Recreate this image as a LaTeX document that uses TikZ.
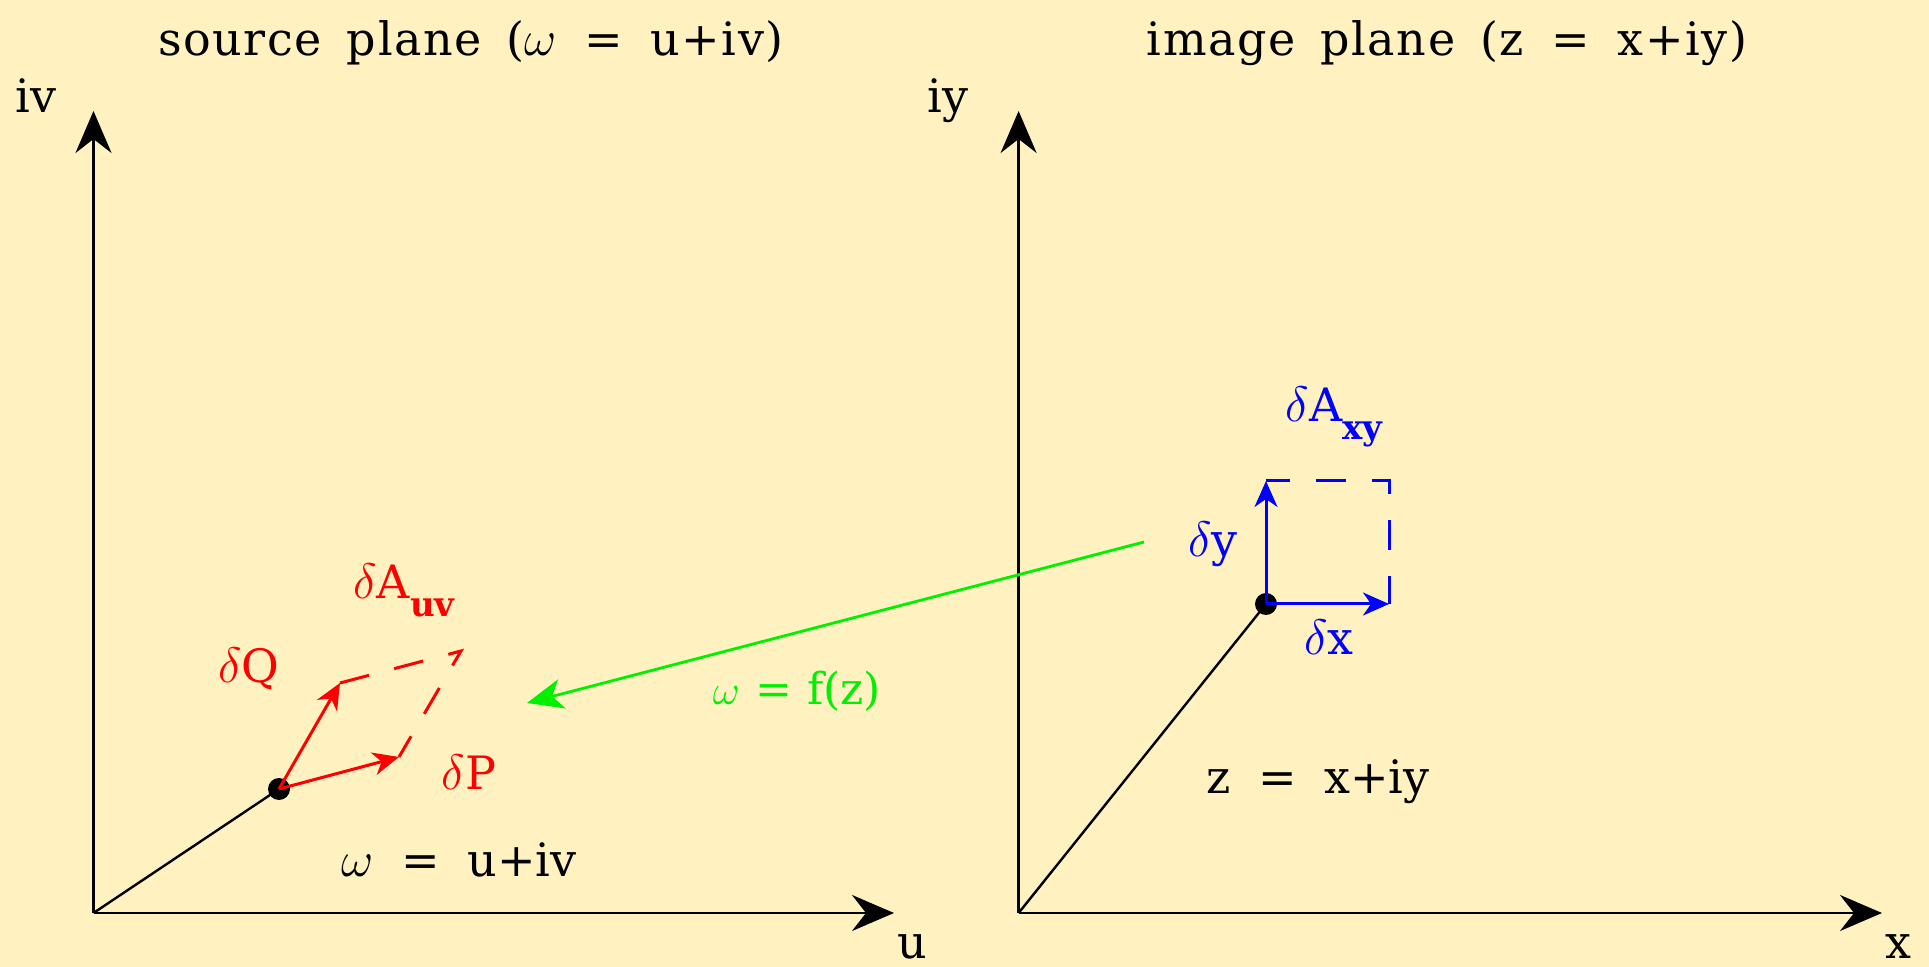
\documentclass[tikz,border=0pt]{standalone}
\usepackage{fontspec}
\setmainfont{DejaVu Serif}
\usetikzlibrary{arrows.meta}
\definecolor{bg}{RGB}{255,242,192}
\definecolor{gr}{RGB}{0,240,0}
\newcommand\eqsp{\hspace{0.6em}=\hspace{0.6em}}
\newcommand\geqsp{\hspace{0.35em}=\hspace{0.35em}}
\newcommand\wsp{\hspace{0.54em}}
\newcommand\subtxt[1]{\raisebox{-9pt}{\fontsize{17}{17}\selectfont\bfseries #1}}
\tikzset{
 axis/.style={line width=1.3pt, -{Stealth[length=21pt,width=18pt,inset=7pt]}},
 vec/.style={line width=1.5pt, -{Stealth[length=13pt,width=11.5pt,inset=4pt]}},
 gvec/.style={line width=1.4pt, gr, -{Stealth[length=18pt,width=15pt,inset=5pt]}},
 dashside/.style={line width=1.5pt, dash pattern=on 15pt off 13pt},
 ptdot/.style={circle, fill=black, inner sep=0pt, minimum size=11pt},
 radline/.style={line width=1.2pt},
 lbl/.style={anchor=base, inner sep=0pt, font=\fontsize{23}{27}\selectfont},
 ttl/.style={anchor=base, inner sep=0pt, font=\fontsize{23}{27}\selectfont\addfontfeatures{LetterSpace=3.5}},
 clbl/.style={anchor=base, inner sep=0pt, font=\fontsize{23}{27}\selectfont},
}
\begin{document}
\begin{tikzpicture}[x=0.5pt,y=-0.5pt]
\fill[bg] (0,0) rectangle (1929,967);
\useasboundingbox (0,0) rectangle (1929,967);
% titles
\node[ttl] (t1) at (471,56) {source\wsp plane\wsp($\omega$\eqsp u+iv)};
\node[ttl] (t2) at (1447,56) {image\wsp plane\wsp(z\eqsp x+iy)};
% left axes
\coordinate (O1) at (93.5,913);
\coordinate (Y1) at (93.5,111);
\coordinate (X1) at (894,913);
\draw[axis] (O1) -- (Y1);
\draw[axis] (O1) -- (X1);
\node[lbl] (iv) at (36,113) {iv};
\node[lbl] (u) at (912,958) {u};
% right axes
\coordinate (O2) at (1018.6,913);
\coordinate (Y2) at (1018.6,111);
\coordinate (X2) at (1882,913);
\draw[axis] (O2) -- (Y2);
\draw[axis] (O2) -- (X2);
\node[lbl] (iy) at (948,113) {iy};
\node[lbl] (x) at (1898,958) {x};
% left point
\coordinate (P1c) at (279,789);
\draw[radline] (O1) -- (P1c);
\node[ptdot] (P1) at (P1c) {};
\coordinate (dP) at (399,757);
\coordinate (dQ) at (340,683);
\coordinate (C1) at (461,651);
\draw[dashside, red] (dQ) -- (C1) -- (dP);
\draw[vec, red] (P1.center) -- (dP);
\draw[vec, red] (P1.center) -- (dQ);
\node[clbl, red] (lQ) at (249,683) {$\delta$Q};
\node[clbl, red] (lP) at (469,790) {$\delta$P};
\node[clbl, red] (lA1) at (404,599) {$\delta$A\subtxt{uv}};
\node[lbl] (w) at (459,877) {$\omega$\eqsp u+iv};
% right point
\coordinate (P2c) at (1266,604);
\draw[radline] (O2) -- (P2c);
\node[ptdot] (P2) at (P2c) {};
\coordinate (dX) at (1389,604);
\coordinate (dY) at (1266,481);
\coordinate (C2) at (1389,481);
\draw[dashside, blue, dash phase=3pt] (dY) -- (C2) -- (dX);
\draw[vec, blue] (P2.center) -- (dX);
\draw[vec, blue] (P2.center) -- (dY);
\node[clbl, blue] (ly) at (1213,557) {$\delta$y};
\node[clbl, blue] (lx) at (1329,655) {$\delta$x};
\node[clbl, blue] (lA2) at (1334,422) {$\delta$A\subtxt{xy}};
\node[lbl] (z) at (1318,794) {z\eqsp x+iy};
% mapping arrow
\coordinate (gs) at (1144,542);
\coordinate (ge) at (527,703);
\draw[gvec] (gs) -- (ge);
\node[clbl, gr, font=\fontsize{22}{26}\selectfont] (lf) at (797,705) {$\omega$\geqsp f(z)};
\end{tikzpicture}
\end{document}
